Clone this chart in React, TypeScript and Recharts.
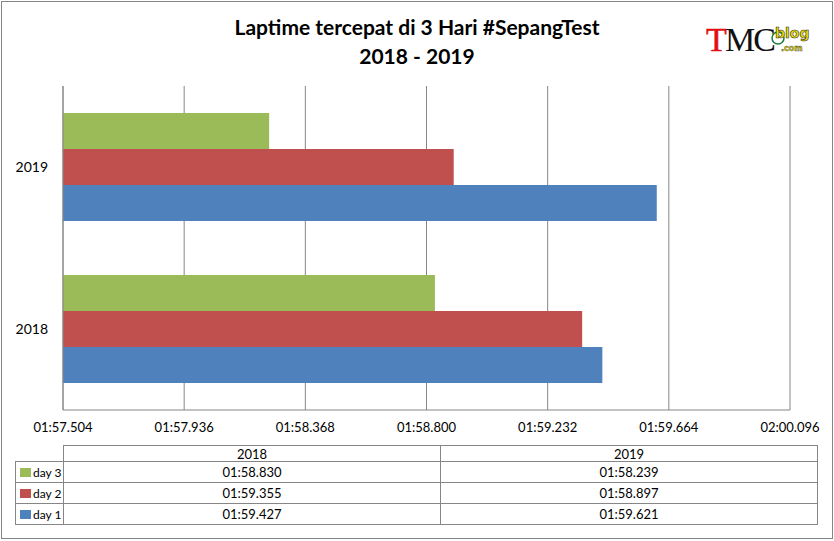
import { Bar, BarChart, CartesianGrid, XAxis, YAxis } from "recharts";

// lap times in seconds (01:58.830 -> 118.830)
const years = ["2018", "2019"];
const day3 = [118.83, 118.239];
const day2 = [119.355, 118.897];
const day1 = [119.427, 119.621];
const ticks = [117.504, 117.936, 118.368, 118.8, 119.232, 119.664, 120.096];

const series = [
  { key: "day3", name: "day 3", color: "#9BBB59", values: day3 },
  { key: "day2", name: "day 2", color: "#C0504D", values: day2 },
  { key: "day1", name: "day 1", color: "#4F81BD", values: day1 },
];

const data = years.map((year, i) => ({
  year,
  day3: day3[i],
  day2: day2[i],
  day1: day1[i],
}));

const GRID = "#868686";
const FONT = "Lato, 'Open Sans', sans-serif";

function fmt(v: number) {
  const ms = Math.round(v * 1000);
  const m = Math.floor(ms / 60000);
  const rest = ms - m * 60000;
  const s = Math.floor(rest / 1000);
  const f = rest % 1000;
  return `${String(m).padStart(2, "0")}:${String(s).padStart(2, "0")}.${String(f).padStart(3, "0")}`;
}

function Box({
  left,
  top,
  width,
  height,
  children,
}: {
  left: number;
  top: number;
  width: number;
  height: number;
  children?: React.ReactNode;
}) {
  return (
    <div
      style={{
        position: "absolute",
        left,
        top,
        width: width + 1,
        height: height + 1,
        boxSizing: "border-box",
        border: `1px solid ${GRID}`,
        display: "flex",
        alignItems: "center",
        justifyContent: "center",
        fontSize: 13,
        color: "#000",
      }}
    >
      {children}
    </div>
  );
}

export default function App() {
  const rowTops = [461, 482, 503];
  return (
    <div
      style={{
        position: "absolute",
        left: 0,
        top: 0,
        width: 834,
        height: 541,
        background: "#fff",
        fontFamily: FONT,
      }}
    >
      <div
        style={{
          position: "absolute",
          left: 1,
          top: 1,
          width: 832,
          height: 538,
          boxSizing: "border-box",
          border: `1px solid ${GRID}`,
        }}
      />
      <div style={{ position: "absolute", left: 0, top: 0 }}>
        <BarChart
          width={834}
          height={541}
          data={data}
          layout="vertical"
          margin={{ top: 86, right: 44, left: 3, bottom: 101 }}
          barCategoryGap="16.67%"
          barGap={0}
        >
          <CartesianGrid horizontal={false} stroke={GRID} />
          <XAxis
            type="number"
            domain={[ticks[0], ticks[ticks.length - 1]]}
            ticks={ticks}
            allowDataOverflow
            height={30}
            tickLine={false}
            tickMargin={7}
            axisLine={{ stroke: GRID }}
            tickFormatter={fmt}
            tick={{ fontSize: 13, fill: "#000", fontFamily: FONT }}
          />
          <YAxis
            type="category"
            dataKey="year"
            reversed
            width={60}
            tickLine={false}
            tickMargin={9}
            axisLine={{ stroke: GRID }}
            tick={{ fontSize: 14, fill: "#000", fontFamily: FONT }}
          />
          {series.map((s) => (
            <Bar
              key={s.key}
              dataKey={s.key}
              name={s.name}
              fill={s.color}
              isAnimationActive={false}
            />
          ))}
        </BarChart>
      </div>

      <div
        style={{
          position: "absolute",
          left: 0,
          width: 834,
          top: 12,
          textAlign: "center",
          fontWeight: 700,
          fontSize: 21,
          lineHeight: "29px",
          color: "#000",
        }}
      >
        Laptime tercepat di 3 Hari #SepangTest
        <br />
        2018 - 2019
      </div>

      <svg
        style={{ position: "absolute", left: 700, top: 18 }}
        width={112}
        height={40}
      >
        <text
          x={6}
          y={33}
          fontFamily="'Liberation Serif', serif"
          fontSize={34}
          fill="#E01010"
          stroke="#E01010"
          strokeWidth={0.5}
        >
          T
        </text>
        <text
          x={25}
          y={33}
          fontFamily="'Liberation Serif', serif"
          fontSize={34}
          fill="#111"
          letterSpacing={-2}
        >
          MC
        </text>
        <circle cx={78} cy={20} r={6} fill="#fff" stroke="#1a7a3a" strokeWidth={1.5} />
        <text
          x={75}
          y={20}
          fontFamily="'DejaVu Sans', sans-serif"
          fontSize={14}
          fontWeight={700}
          fill="#E8DC00"
          stroke="#333"
          strokeWidth={0.6}
        >
          blog
        </text>
        <text
          x={81}
          y={33}
          fontFamily="'DejaVu Sans', sans-serif"
          fontSize={8}
          fontWeight={700}
          fill="#E8DC00"
          stroke="#333"
          strokeWidth={0.4}
        >
          .com
        </text>
      </svg>

      {/* data table */}
      <Box left={63} top={445} width={377} height={16}>
        {years[0]}
      </Box>
      <Box left={440} top={445} width={377} height={16}>
        {years[1]}
      </Box>
      {series.map((s, r) => (
        <div key={s.key}>
          <Box left={15} top={rowTops[r]} width={48} height={21}>
            <div
              style={{
                display: "flex",
                alignItems: "center",
                width: "100%",
                paddingLeft: 4,
                fontSize: 12,
              }}
            >
              <span
                style={{
                  display: "inline-block",
                  width: 11,
                  height: 9,
                  background: s.color,
                  marginRight: 2,
                }}
              />
              {s.name}
            </div>
          </Box>
          <Box left={63} top={rowTops[r]} width={377} height={21}>
            {fmt(s.values[0])}
          </Box>
          <Box left={440} top={rowTops[r]} width={377} height={21}>
            {fmt(s.values[1])}
          </Box>
        </div>
      ))}
    </div>
  );
}
